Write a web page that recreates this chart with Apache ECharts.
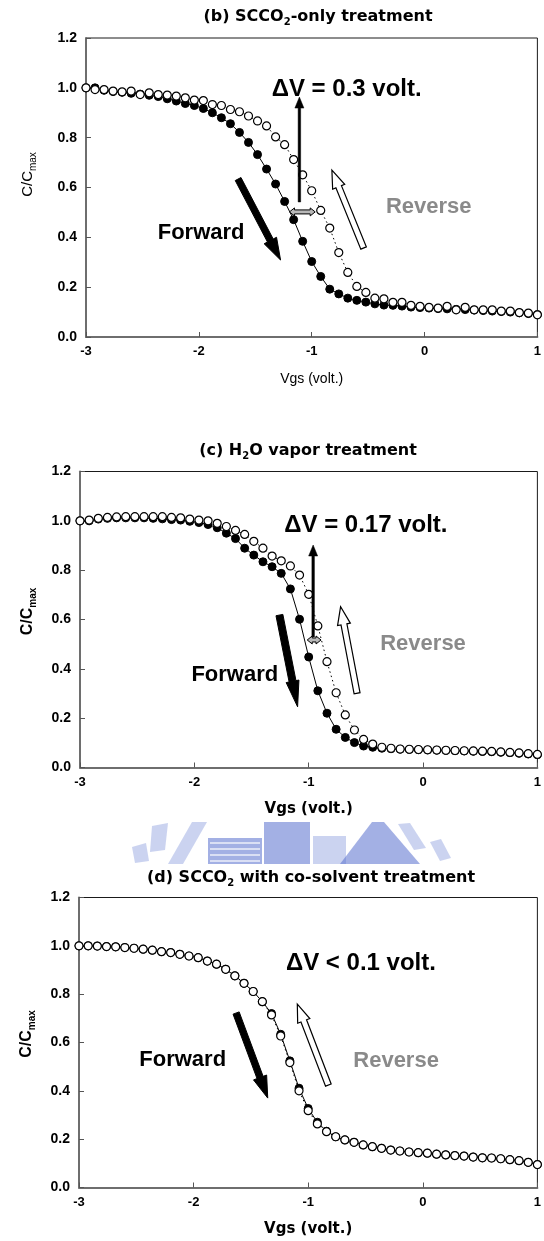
<!DOCTYPE html>
<html>
<head>
<meta charset="utf-8">
<script src="https://cdn.jsdelivr.net/npm/echarts@6/dist/echarts.min.js"></script>
<style>
  html, body { margin: 0; padding: 0; background: #fff; }
  #chart { width: 544px; height: 1241px; }
</style>
</head>
<body>
<div id="chart"></div>
<script>
// Gate voltage sweep (V), shared by all three C-V curves
const VGS = [-3.00, -2.92, -2.84, -2.76, -2.68, -2.60, -2.52, -2.44, -2.36, -2.28,
             -2.20, -2.12, -2.04, -1.96, -1.88, -1.80, -1.72, -1.64, -1.56, -1.48,
             -1.40, -1.32, -1.24, -1.16, -1.08, -1.00, -0.92, -0.84, -0.76, -0.68,
             -0.60, -0.52, -0.44, -0.36, -0.28, -0.20, -0.12, -0.04, 0.04, 0.12,
             0.20, 0.28, 0.36, 0.44, 0.52, 0.60, 0.68, 0.76, 0.84, 0.92, 1.00];

// (b) SCCO2-only treatment: normalised capacitance C/Cmax
const B_FORWARD = [1.000, 1.000, 0.990, 0.985, 0.982, 0.978, 0.975, 0.970, 0.965, 0.956,
                   0.947, 0.937, 0.929, 0.917, 0.900, 0.880, 0.856, 0.821, 0.781, 0.732,
                   0.674, 0.614, 0.544, 0.471, 0.384, 0.303, 0.243, 0.192, 0.173, 0.156,
                   0.147, 0.140, 0.133, 0.128, 0.127, 0.124, 0.120, 0.118, 0.116, 0.114,
                   0.113, 0.111, 0.110, 0.108, 0.106, 0.104, 0.102, 0.100, 0.097, 0.094, 0.090];
const B_REVERSE = [1.000, 0.993, 0.993, 0.987, 0.984, 0.987, 0.973, 0.980, 0.973, 0.971,
                   0.967, 0.960, 0.951, 0.949, 0.933, 0.929, 0.913, 0.904, 0.887, 0.867,
                   0.847, 0.803, 0.772, 0.712, 0.651, 0.587, 0.508, 0.437, 0.339, 0.259,
                   0.203, 0.179, 0.156, 0.153, 0.139, 0.139, 0.127, 0.123, 0.119, 0.116,
                   0.123, 0.109, 0.119, 0.109, 0.109, 0.109, 0.104, 0.104, 0.098, 0.096, 0.089];

// (c) H2O vapor treatment
const C_FORWARD = [1.000, 1.000, 1.007, 1.010, 1.012, 1.012, 1.012, 1.012, 1.010, 1.008,
                   1.005, 1.003, 0.998, 0.993, 0.985, 0.972, 0.950, 0.928, 0.889, 0.861,
                   0.834, 0.814, 0.787, 0.724, 0.601, 0.448, 0.311, 0.220, 0.155, 0.122,
                   0.101, 0.087, 0.082, 0.078, 0.076, 0.074, 0.073, 0.072, 0.071, 0.070,
                   0.069, 0.068, 0.067, 0.066, 0.065, 0.064, 0.062, 0.060, 0.058, 0.055, 0.052];
const C_REVERSE = [1.000, 1.003, 1.010, 1.014, 1.016, 1.017, 1.017, 1.017, 1.017, 1.017,
                   1.014, 1.012, 1.007, 1.003, 1.000, 0.990, 0.977, 0.961, 0.945, 0.917,
                   0.889, 0.857, 0.838, 0.817, 0.780, 0.702, 0.574, 0.429, 0.303, 0.213,
                   0.152, 0.114, 0.095, 0.082, 0.078, 0.075, 0.074, 0.073, 0.072, 0.071,
                   0.070, 0.069, 0.068, 0.067, 0.066, 0.065, 0.063, 0.061, 0.059, 0.056, 0.053];

// (d) SCCO2 with co-solvent treatment
const D_FORWARD = [1.000, 1.000, 0.999, 0.997, 0.996, 0.993, 0.990, 0.986, 0.982, 0.976,
                   0.972, 0.965, 0.958, 0.951, 0.937, 0.924, 0.903, 0.876, 0.845, 0.811,
                   0.769, 0.720, 0.634, 0.524, 0.411, 0.327, 0.270, 0.233, 0.210, 0.197,
                   0.187, 0.176, 0.169, 0.162, 0.155, 0.151, 0.147, 0.144, 0.142, 0.138,
                   0.135, 0.132, 0.130, 0.126, 0.123, 0.122, 0.119, 0.115, 0.111, 0.104, 0.095];
const D_REVERSE = [1.000, 1.000, 0.999, 0.997, 0.996, 0.993, 0.990, 0.986, 0.982, 0.976,
                   0.972, 0.965, 0.958, 0.951, 0.937, 0.924, 0.903, 0.876, 0.845, 0.811,
                   0.769, 0.714, 0.627, 0.517, 0.400, 0.318, 0.263, 0.231, 0.210, 0.197,
                   0.187, 0.176, 0.169, 0.162, 0.155, 0.151, 0.147, 0.144, 0.142, 0.138,
                   0.135, 0.132, 0.130, 0.126, 0.123, 0.122, 0.119, 0.115, 0.111, 0.104, 0.095];

// Axis ranges / tick steps
const X_RANGE = [-3, 1];
const X_STEP = 1;
const Y_RANGE = [0, 1.2];
const Y_STEP = 0.2;

const SANS = '"Liberation Sans", Arial, sans-serif';
const WIDE = '"DejaVu Sans", "Liberation Sans", sans-serif';

// Per-panel layout and annotation settings (annotation anchors in data units)
const PANELS = [
  {
    grid: { left: 86, top: 38, width: 457, height: 299 },
    title: { pre: '(b) SCCO', sub: '2', post: '-only treatment', cx: 318, top: 7 },
    axisBold: false, yNameGap: 48, yNamePad: 26, xNameGap: 35,
    forward: B_FORWARD, reverse: B_REVERSE,
    delta: { text: '\u0394V = 0.3 volt.', at: [-0.69, 0.995] },
    vArrow: { from: [-1.109, 0.542], to: [-1.109, 0.963] },
    hArrow: { from: [-1.197, 0.502], to: [-0.969, 0.502] },
    fwdArrow: { from: [-1.652, 0.634], to: [-1.276, 0.309], sw: 6.5, hw: 14, hl: 22 },
    revArrow: { from: [-0.540, 0.357], to: [-0.821, 0.670], sw: 6, hw: 13, hl: 18 },
    fwdText: [-1.98, 0.417],
    revText: [0.037, 0.522]
  },
  {
    grid: { left: 80, top: 471.5, width: 461, height: 296 },
    title: { pre: '(c) H', sub: '2', post: 'O vapor treatment', cx: 308, top: 441 },
    axisBold: true, yNameGap: 42, yNamePad: 16, xNameGap: 34,
    forward: C_FORWARD, reverse: C_REVERSE,
    delta: { text: '\u0394V = 0.17 volt.', at: [-0.50, 0.983] },
    vArrow: { from: [-0.961, 0.529], to: [-0.961, 0.902] },
    hArrow: { from: [-1.013, 0.517], to: [-0.892, 0.517] },
    fwdArrow: { from: [-1.256, 0.618], to: [-1.097, 0.246], sw: 7, hw: 13, hl: 26 },
    revArrow: { from: [-0.577, 0.301], to: [-0.721, 0.652], sw: 6, hw: 13, hl: 18 },
    fwdText: [-1.646, 0.375],
    revText: [0.0, 0.501]
  },
  {
    grid: { left: 79, top: 897.5, width: 464, height: 290 },
    title: { pre: '(d) SCCO', sub: '2', post: ' with co-solvent treatment', cx: 311, top: 868 },
    axisBold: true, yNameGap: 42, yNamePad: 17, xNameGap: 34,
    forward: D_FORWARD, reverse: D_REVERSE,
    delta: { text: '\u0394V < 0.1 volt.', at: [-0.54, 0.929] },
    vArrow: null,
    hArrow: null,
    fwdArrow: { from: [-1.629, 0.722], to: [-1.353, 0.370], sw: 6.5, hw: 14, hl: 22 },
    revArrow: { from: [-0.824, 0.424], to: [-1.095, 0.759], sw: 6, hw: 13, hl: 18 },
    fwdText: [-2.095, 0.528],
    revText: [-0.233, 0.523]
  }
];

// Faint university emblem printed behind the page between panels (c) and (d)
const EMBLEM_DARK = 'rgba(88, 112, 205, 0.55)';
const EMBLEM_LIGHT = 'rgba(140, 158, 222, 0.45)';
const EMBLEM = [
  { fill: EMBLEM_LIGHT, pts: [[152, 826], [168, 823], [165, 850], [150, 852]] },
  { fill: EMBLEM_LIGHT, pts: [[132, 847], [146, 843], [149, 861], [135, 863]] },
  { fill: EMBLEM_LIGHT, pts: [[192, 822], [207, 822], [183, 864], [168, 864]] },
  { fill: EMBLEM_DARK,  pts: [[208, 838], [262, 838], [262, 864], [208, 864]] },
  { fill: EMBLEM_DARK,  pts: [[264, 822], [310, 822], [310, 864], [264, 864]] },
  { fill: EMBLEM_LIGHT, pts: [[313, 836], [346, 836], [346, 864], [313, 864]] },
  { fill: EMBLEM_DARK,  pts: [[372, 822], [384, 822], [420, 864], [340, 864]] },
  { fill: EMBLEM_LIGHT, pts: [[398, 824], [410, 823], [426, 848], [414, 850]] },
  { fill: EMBLEM_LIGHT, pts: [[430, 842], [441, 839], [451, 858], [440, 861]] }
];
const EMBLEM_STRIPES = [843, 849, 855, 861];

const chart = echarts.init(document.getElementById('chart'), null, { renderer: 'canvas' });

function pairs(ys) {
  return VGS.map((x, i) => [x, ys[i]]);
}

const grids = [], xAxes = [], yAxes = [], series = [], titles = [];

PANELS.forEach((p, k) => {
  grids.push(Object.assign({ show: true, borderColor: '#1a1a1a', borderWidth: 1, backgroundColor: 'transparent' }, p.grid));

  titles.push({
    text: p.title.pre + '{s|' + p.title.sub + '}' + p.title.post,
    left: p.title.cx,
    top: p.title.top,
    textAlign: 'center',
    padding: 0,
    textStyle: {
      fontFamily: WIDE, fontSize: 16, fontWeight: 'bold', color: '#000', lineHeight: 20,
      rich: { s: { fontFamily: WIDE, fontSize: 10, fontWeight: 'bold', color: '#000', lineHeight: 12, verticalAlign: 'bottom' } }
    }
  });

  const nameWeight = p.axisBold ? 'bold' : 'normal';

  xAxes.push({
    type: 'value', gridIndex: k, min: X_RANGE[0], max: X_RANGE[1], interval: X_STEP,
    name: 'Vgs (volt.)', nameLocation: 'middle', nameGap: p.xNameGap,
    nameTextStyle: { fontFamily: p.axisBold ? WIDE : SANS, fontSize: p.axisBold ? 15 : 14, fontWeight: nameWeight, color: '#000' },
    axisLine: { show: true, onZero: false, lineStyle: { color: '#6e6e6e', width: 2 } },
    axisTick: { show: true, inside: true, length: 5, lineStyle: { color: '#555', width: 1 } },
    axisLabel: { fontFamily: SANS, fontSize: 13, fontWeight: 'bold', color: '#000', margin: 8 },
    splitLine: { show: false }
  });

  yAxes.push({
    type: 'value', gridIndex: k, min: Y_RANGE[0], max: Y_RANGE[1], interval: Y_STEP,
    name: '{a|C/C}{s|max}', nameLocation: 'middle', nameRotate: 90, nameGap: p.yNameGap,
    nameTextStyle: {
      padding: [0, 0, 0, p.yNamePad],
      lineHeight: 20,
      rich: {
        a: { fontFamily: SANS, fontSize: p.axisBold ? 16 : 15, fontWeight: nameWeight, color: '#000', lineHeight: 20 },
        s: { fontFamily: SANS, fontSize: 10, fontWeight: nameWeight, color: '#000', lineHeight: 11, verticalAlign: 'bottom' }
      }
    },
    axisLine: { show: true, onZero: false, lineStyle: { color: '#6e6e6e', width: 2 } },
    axisTick: { show: true, inside: true, length: 5, lineStyle: { color: '#555', width: 1 } },
    axisLabel: { fontFamily: SANS, fontSize: 14, fontWeight: 'bold', color: '#000', margin: 9,
                 formatter: v => v.toFixed(1) },
    splitLine: { show: false }
  });

  // Forward sweep: filled circles on a solid line
  series.push({
    type: 'line', xAxisIndex: k, yAxisIndex: k, data: pairs(p.forward),
    symbol: 'circle', symbolSize: 8, showSymbol: true, clip: false, z: 3,
    lineStyle: { color: '#000', width: 1, type: 'solid' },
    itemStyle: { color: '#000', borderColor: '#000', borderWidth: 1 },
    emphasis: { disabled: true }, animation: false
  });
  // Reverse sweep: open circles on a dotted line
  series.push({
    type: 'line', xAxisIndex: k, yAxisIndex: k, data: pairs(p.reverse),
    symbol: 'circle', symbolSize: 8, showSymbol: true, clip: false, z: 4,
    lineStyle: { color: '#000', width: 1, type: [1.5, 3] },
    itemStyle: { color: '#fff', borderColor: '#000', borderWidth: 1.2 },
    emphasis: { disabled: true }, animation: false
  });
});

chart.setOption({
  animation: false,
  backgroundColor: '#fff',
  title: titles,
  grid: grids,
  xAxis: xAxes,
  yAxis: yAxes,
  series: series
});

// Arrow outline from tail p0 to tip p1 (pixel space); optional head at both ends
function arrowPoints(p0, p1, sw, hw, hl, both) {
  const dx = p1[0] - p0[0], dy = p1[1] - p0[1];
  const len = Math.hypot(dx, dy);
  const ux = dx / len, uy = dy / len;
  const nx = -uy, ny = ux;
  const at = (p, along, across) => [p[0] + ux * along + nx * across, p[1] + uy * along + ny * across];
  const pts = [];
  if (both) {
    pts.push(p0, at(p0, hl, hw / 2), at(p0, hl, sw / 2));
  } else {
    pts.push(at(p0, 0, sw / 2));
  }
  pts.push(at(p1, -hl, sw / 2), at(p1, -hl, hw / 2), p1, at(p1, -hl, -hw / 2), at(p1, -hl, -sw / 2));
  if (both) {
    pts.push(at(p0, hl, -sw / 2), at(p0, hl, -hw / 2));
  } else {
    pts.push(at(p0, 0, -sw / 2));
  }
  return pts;
}

function drawAnnotations() {
  const g = [];

  EMBLEM.forEach(e => {
    g.push({ type: 'polygon', z: -10, silent: true, shape: { points: e.pts }, style: { fill: e.fill } });
  });
  EMBLEM_STRIPES.forEach(y => {
    g.push({ type: 'line', z: -9, silent: true, shape: { x1: 210, y1: y, x2: 260, y2: y },
             style: { stroke: 'rgba(255,255,255,0.8)', lineWidth: 1.5 } });
  });

  PANELS.forEach((p, k) => {
    const px = v => chart.convertToPixel({ gridIndex: k }, v);
    const txt = (pos, text, fill, size) => {
      const q = px(pos);
      g.push({
        type: 'text', x: q[0], y: q[1], z: 100, silent: true,
        style: { text, font: 'bold ' + size + 'px ' + SANS, fill, align: 'center', verticalAlign: 'middle' }
      });
    };
    txt(p.delta.at, p.delta.text, '#000', 24);
    txt(p.fwdText, 'Forward', '#000', 22);
    txt(p.revText, 'Reverse', '#8a8a8a', 22);

    const fa = p.fwdArrow;
    g.push({ type: 'polygon', z: 100, silent: true,
      shape: { points: arrowPoints(px(fa.from), px(fa.to), fa.sw, fa.hw, fa.hl, false) },
      style: { fill: '#000', stroke: '#000', lineWidth: 1 } });
    const ra = p.revArrow;
    g.push({ type: 'polygon', z: 100, silent: true,
      shape: { points: arrowPoints(px(ra.from), px(ra.to), ra.sw, ra.hw, ra.hl, false) },
      style: { fill: '#fff', stroke: '#000', lineWidth: 1.2 } });
    if (p.vArrow) {
      g.push({ type: 'polygon', z: 100, silent: true,
        shape: { points: arrowPoints(px(p.vArrow.from), px(p.vArrow.to), 2.5, 9, 11, false) },
        style: { fill: '#000', stroke: '#000', lineWidth: 0.5 } });
    }
    if (p.hArrow) {
      g.push({ type: 'polygon', z: 101, silent: true,
        shape: { points: arrowPoints(px(p.hArrow.from), px(p.hArrow.to), 4, 8, 5, true) },
        style: { fill: '#b8b8b8', stroke: '#000', lineWidth: 1 } });
    }
  });
  chart.setOption({ graphic: g });
}

drawAnnotations();
</script>
</body>
</html>
